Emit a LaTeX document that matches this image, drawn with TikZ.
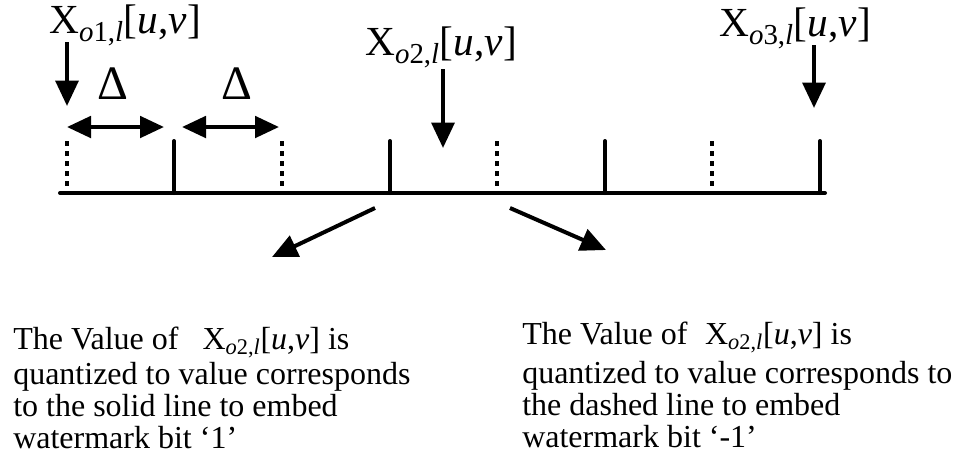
\documentclass[tikz,border=0pt]{standalone}
\usepackage{fontspec}
\setmainfont{Liberation Serif}
\usetikzlibrary{arrows.meta}
\newcommand{\xval}[1]{X\textsubscript{\textit{o}#1,\textit{l}}[\textit{u},\textit{v}]}
\begin{document}
\begin{tikzpicture}[x=0.75pt, y=-0.75pt,
  axis/.style={line width=3pt, line cap=round},
  solidtick/.style={line width=3pt, line cap=round},
  dashtick/.style={line width=3pt, dash pattern=on 3.75pt off 3.75pt},
  arr/.style={line width=3pt, -{Triangle[width=17pt, length=19pt]}},
  darr/.style={line width=3pt, {Triangle[width=16pt, length=18pt]}-{Triangle[width=16pt, length=18pt]}},
  lab/.style={font=\fontsize{31}{36}\selectfont, inner sep=0pt, anchor=base},
  dlt/.style={font=\fontsize{36}{40}\selectfont, inner sep=0pt},
  txt/.style={font=\fontsize{24}{24}\selectfont, align=left, anchor=base west, inner sep=0pt}]
\useasboundingbox (0,0) rectangle (957,455);
% quantization axis
\coordinate (ax0) at (60,193);
\coordinate (ax1) at (825,193);
\draw[axis] (ax0) -- (ax1);
\foreach \x/\s in {67/dashtick, 174/solidtick, 282/dashtick, 390/solidtick,
                   497/dashtick, 605/solidtick, 712/dashtick, 820/solidtick}
  \draw[\s] (\x,141) -- (\x,193);
% labels
\node[lab] (lo1) at (125,33) {\xval{1}};
\node[lab] (lo2) at (441,55) {\xval{2}};
\node[lab] (lo3) at (795,36) {\xval{3}};
\coordinate (a1s) at (67,42);  \coordinate (a1e) at (67,106);
\coordinate (a2s) at (443,69); \coordinate (a2e) at (443,148);
\coordinate (a3s) at (814,45); \coordinate (a3e) at (814,108);
\draw[arr] (a1s) -- (a1e);
\draw[arr] (a2s) -- (a2e);
\draw[arr] (a3s) -- (a3e);
% step size
\node[dlt] (d1) at (113,84) {Δ};
\node[dlt] (d2) at (237,84) {Δ};
\coordinate (s1l) at (67,127);  \coordinate (s1r) at (164,127);
\coordinate (s2l) at (182,127); \coordinate (s2r) at (279,127);
\draw[darr] (s1l) -- (s1r);
\draw[darr] (s2l) -- (s2r);
% outcomes
\node[txt] (t1) at (13,448) {The Value of\hspace{0.5em} \xval{2} is\\[2pt]
  quantized to value corresponds\\ to the solid line to embed\\ watermark bit ‘1’};
\node[txt] (t2) at (522,447) {The Value of\hspace{0.3em} \xval{2} is\\[5pt]
  quantized to value corresponds to\\ the dashed line to embed\\ watermark bit ‘-1’};
\coordinate (q1s) at (375,208); \coordinate (q1e) at (272,257);
\coordinate (q2s) at (510,208); \coordinate (q2e) at (606,250);
\draw[arr] (q1s) -- (q1e);
\draw[arr] (q2s) -- (q2e);
\end{tikzpicture}
\end{document}
